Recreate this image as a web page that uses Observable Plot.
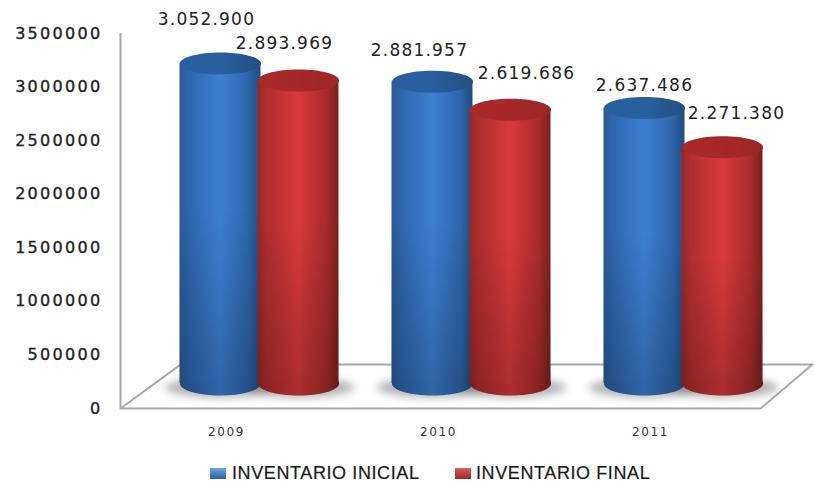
<!DOCTYPE html>
<html>
<head>
<meta charset="utf-8">
<script src="https://cdn.jsdelivr.net/npm/d3@7"></script>
<script src="https://cdn.jsdelivr.net/npm/@observablehq/plot@0.6"></script>
<style>
  html, body { margin: 0; padding: 0; background: #fff; overflow: hidden; }
  #chart svg { display: block; background: #fff; overflow: visible; }
  .val text, text.val { letter-spacing: 1.2px; }
  .ytick text { letter-spacing: 2.3px; stroke: #222; stroke-width: 0.35px; }
  .xtick text { letter-spacing: 1.6px; }
  #legend { position: relative; height: 28px; font-family: "Liberation Sans", sans-serif; font-size: 18px; letter-spacing: 0.6px; color: #1a1a1a; -webkit-text-stroke: 0.2px #1a1a1a; }
  #legend span { position: absolute; top: 8px; line-height: 20px; white-space: nowrap; }
  #legend i { position: absolute; top: 13px; width: 16px; height: 11px; }
</style>
</head>
<body>
<div id="chart"></div>
<div id="legend"></div>
<script>
const years = ["2009", "2010", "2011"];
const seriesNames = ["INVENTARIO INICIAL", "INVENTARIO FINAL"];
const inicial = [3052900, 2881957, 2637486];
const final_ = [2893969, 2619686, 2271380];
const yTicks = [0, 500000, 1000000, 1500000, 2000000, 2500000, 3000000, 3500000];

// label placement, separate from data
const nudges = [[[-14, -62], [-14, -55]], [[-13, -49], [16, -54]], [[0, -40], [14, -52]]];
const floorOutline = [
  {x: 0, y: 0}, {x: 3.019, y: 0}, {x: 3.264, y: 410000}, {x: 0.283, y: 410000}, {x: 0, y: 0}
];
const cylStep = 0.368, cylWidth = 0.382, baseValue = 65000;
const depthX = 33, depthY = -18, rx = 40.5;

const dotFmt = d3.format(",d");
const esFmt = v => dotFmt(v).replace(/,/g, ".");

const rows = [];
[inicial, final_].forEach((vals, s) => vals.forEach((v, i) => {
  const c = i + 0.5 + (s === 0 ? -cylStep / 2 : cylStep / 2);
  rows.push({s, i, v, c, x1: c - cylWidth / 2, x2: c + cylWidth / 2, base: baseValue, nudge: nudges[i][s]});
}));

function ellipse(a, b) {
  const k = 0.5523;
  return {draw(ctx) {
    ctx.moveTo(-a, 0);
    ctx.bezierCurveTo(-a, -k * b, -k * a, -b, 0, -b);
    ctx.bezierCurveTo(k * a, -b, a, -k * b, a, 0);
    ctx.bezierCurveTo(a, k * b, k * a, b, 0, b);
    ctx.bezierCurveTo(-k * a, b, -a, k * b, -a, 0);
    ctx.closePath();
  }};
}

const hGrad = (id, stops) => `<linearGradient id="${id}" x1="0" x2="1" y1="0" y2="0">` +
  stops.map(([o, c]) => `<stop offset="${o}" stop-color="${c}"/>`).join("") + `</linearGradient>`;

const defs = () => {
  const d = document.createElementNS("http://www.w3.org/2000/svg", "defs");
  d.innerHTML =
    hGrad("b0", [[0, "#2a5a98"], [0.12, "#2f66ad"], [0.5, "#3d80d2"], [0.85, "#2f66ab"], [1, "#214c7e"]]) +
    hGrad("r0", [[0, "#962727"], [0.12, "#b02e2e"], [0.5, "#d93a3a"], [0.85, "#aa2c2c"], [1, "#7c2020"]]) +
    hGrad("bc", [[0, "#2a5f9f"], [0.5, "#28609f"], [1, "#234e82"]]) +
    hGrad("rc", [[0, "#a82a2a"], [0.5, "#a62828"], [1, "#9c2626"]]) +
    `<linearGradient id="shade" x1="0" x2="0" y1="0" y2="1"><stop offset="0.45" stop-color="#000" stop-opacity="0"/><stop offset="1" stop-color="#000" stop-opacity="0.2"/></linearGradient>`;
  return d;
};

const marks = [
  defs,
  Plot.line(floorOutline, {x: "x", y: "y", stroke: "#a8a8a8", strokeWidth: 2}),
  Plot.ruleX([0], {y1: 0, y2: 3500000, stroke: "#a8a8a8", strokeWidth: 2}),
  Plot.dot(rows, {x: "c", y: "base", dx: depthX, dy: depthY + 4, symbol: ellipse(rx + 15, 10),
    fill: "#666", fillOpacity: 0.5, imageFilter: "blur(4px)"})
];
for (const s of [0, 1]) {
  const part = rows.filter(r => r.s === s);
  const k = s === 0 ? "b" : "r";
  marks.push(
    Plot.dot(part, {x: "c", y: "base", dx: depthX, dy: depthY, symbol: ellipse(rx, 12), fill: `url(#${k}0)`}),
    Plot.dot(part, {x: "c", y: "base", dx: depthX, dy: depthY, symbol: ellipse(rx, 12), fill: "#000", fillOpacity: 0.2}),
    Plot.rect(part, {x1: "x1", x2: "x2", y1: "base", y2: "v", dx: depthX, dy: depthY, fill: `url(#${k}0)`}),
    Plot.rect(part, {x1: "x1", x2: "x2", y1: "base", y2: "v", dx: depthX, dy: depthY, fill: "url(#shade)"}),
    Plot.dot(part, {x: "c", y: "v", dx: depthX, dy: depthY, symbol: ellipse(rx, 11), fill: `url(#${k}c)`})
  );
}
for (const r of rows) {
  marks.push(Plot.text([r], {x: "c", y: "v", text: d => esFmt(d.v), dx: depthX + r.nudge[0], dy: r.nudge[1],
    fontSize: 17, fontFamily: "DejaVu Sans", fill: "#222", className: "val"}));
}
marks.push(
  Plot.axisY(yTicks, {label: null, tickSize: 0, tickPadding: 18, tickFormat: d3.format("d"),
    fontSize: 16, fontFamily: "DejaVu Sans", fill: "#222", className: "ytick"}),
  Plot.axisX([0.5, 1.5, 2.5], {label: null, tickSize: 0, tickPadding: 19, anchor: "bottom",
    tickFormat: d => years[Math.floor(d)], fontSize: 12, fontFamily: "DejaVu Sans", fill: "#333", className: "xtick"})
);

const chart = Plot.plot({
  width: 814, height: 455,
  marginLeft: 120, marginRight: 58, marginTop: 33, marginBottom: 47,
  x: {type: "linear", domain: [0, 3]},
  y: {domain: [0, 3500000]},
  marks
});
document.getElementById("chart").append(chart);

const leg = document.getElementById("legend");
leg.innerHTML =
  `<i style="left:210px;background:linear-gradient(#6fa5de,#2a5f9f)"></i><span style="left:232px">${seriesNames[0]}</span>` +
  `<i style="left:455px;background:linear-gradient(#d86060,#a02424)"></i><span style="left:476px">${seriesNames[1]}</span>`;
</script>
</body>
</html>
